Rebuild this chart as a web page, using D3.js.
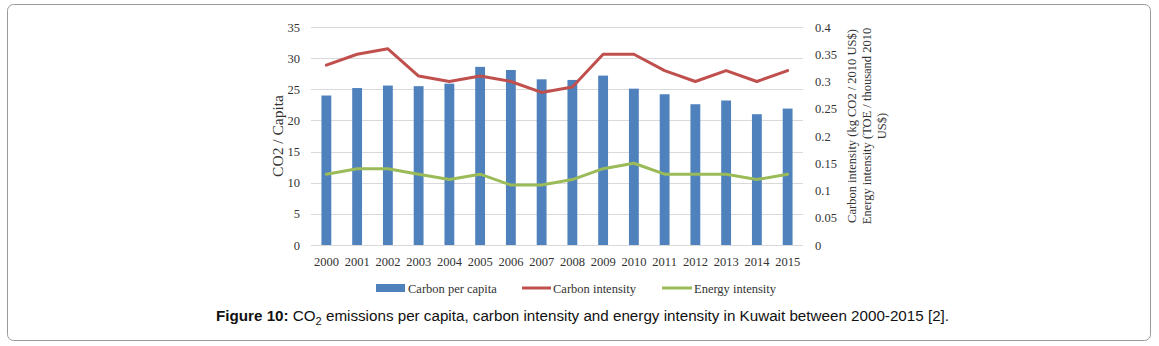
<!DOCTYPE html>
<html>
<head>
<meta charset="utf-8">
<script src="https://cdn.jsdelivr.net/npm/d3@7/dist/d3.min.js"></script>
<style>
  html, body { margin: 0; padding: 0; background: #fff; }
  svg { display: block; }
</style>
</head>
<body>
<svg id="chart" width="1159" height="346"></svg>
<script>
const years = ["2000","2001","2002","2003","2004","2005","2006","2007","2008","2009","2010","2011","2012","2013","2014","2015"];
const carbonPerCapita = [24.0, 25.2, 25.6, 25.5, 25.9, 28.6, 28.1, 26.6, 26.5, 27.2, 25.1, 24.2, 22.6, 23.2, 21.0, 21.9];
const carbonIntensity = [0.33, 0.35, 0.36, 0.31, 0.30, 0.31, 0.30, 0.28, 0.29, 0.35, 0.35, 0.32, 0.30, 0.32, 0.30, 0.32];
const energyIntensity = [0.13, 0.14, 0.14, 0.13, 0.12, 0.13, 0.11, 0.11, 0.12, 0.14, 0.15, 0.13, 0.13, 0.13, 0.12, 0.13];
const leftTicks = [0, 5, 10, 15, 20, 25, 30, 35];
const rightTicks = [0, 0.05, 0.1, 0.15, 0.2, 0.25, 0.3, 0.35, 0.4];
const legendLabels = ["Carbon per capita", "Carbon intensity", "Energy intensity"];

const colors = { bar: "#4F81BD", red: "#C0504D", green: "#9BBB59" };
const serif = "'Liberation Serif', 'Times New Roman', serif";
const sans = "'Liberation Sans', Arial, sans-serif";
const textCol = "#333";

const svg = d3.select("#chart");

// frame
svg.append("rect").attr("x", 7.5).attr("y", 4.5).attr("width", 1143).attr("height", 336)
  .attr("rx", 6).attr("ry", 6).attr("fill", "#fff").attr("stroke", "#9a9a9a").attr("stroke-width", 1);

const plot = { left: 311, right: 803, top: 27, bottom: 245 };

const x = d3.scaleBand().domain(years).range([plot.left, plot.right]).paddingInner(0.68).paddingOuter(0.34);
const yL = d3.scaleLinear().domain([0, 35]).range([plot.bottom, plot.top]);
const yR = d3.scaleLinear().domain([0, 0.4]).range([plot.bottom, plot.top]);

// gridlines
svg.append("g").selectAll("line").data(leftTicks).join("line")
  .attr("x1", plot.left).attr("x2", plot.right)
  .attr("y1", d => Math.round(yL(d)) + 0.5).attr("y2", d => Math.round(yL(d)) + 0.5)
  .attr("stroke", "#d9d9d9").attr("stroke-width", 1);

// left axis
const axL = svg.append("g").attr("transform", `translate(${plot.left},0)`)
  .call(d3.axisLeft(yL).tickValues(leftTicks).tickSize(0).tickPadding(11).tickFormat(d3.format("d")));
axL.select(".domain").remove();
axL.selectAll("text").attr("font-family", serif).attr("font-size", 12.5).attr("fill", textCol);

// right axis
const axR = svg.append("g").attr("transform", `translate(${plot.right},0)`)
  .call(d3.axisRight(yR).tickValues(rightTicks).tickSize(0).tickPadding(12).tickFormat(d => String(+d.toFixed(2))));
axR.select(".domain").remove();
axR.selectAll("text").attr("font-family", serif).attr("font-size", 12.5).attr("fill", textCol);

// bottom axis
const axB = svg.append("g").attr("transform", `translate(0,${plot.bottom})`)
  .call(d3.axisBottom(x).tickSize(0).tickPadding(12));
axB.select(".domain").remove();
axB.selectAll("text").attr("font-family", serif).attr("font-size", 12.5).attr("fill", textCol);

// bars
svg.append("g").selectAll("rect").data(years).join("rect")
  .attr("x", d => x(d)).attr("width", x.bandwidth())
  .attr("y", (d, i) => yL(carbonPerCapita[i]))
  .attr("height", (d, i) => yL(0) - yL(carbonPerCapita[i]))
  .attr("fill", colors.bar);

// lines
const cx = d => x(d) + x.bandwidth() / 2;
const lineGen = (arr) => d3.line().x((d, i) => cx(years[i])).y((d) => yR(d))(arr);
svg.append("path").attr("d", lineGen(carbonIntensity)).attr("fill", "none")
  .attr("stroke", colors.red).attr("stroke-width", 3).attr("stroke-linejoin", "round").attr("stroke-linecap", "round");
svg.append("path").attr("d", lineGen(energyIntensity)).attr("fill", "none")
  .attr("stroke", colors.green).attr("stroke-width", 3).attr("stroke-linejoin", "round").attr("stroke-linecap", "round");

// left title
svg.append("text").attr("transform", "translate(283,136) rotate(-90)")
  .attr("text-anchor", "middle").attr("font-family", serif).attr("font-size", 15.5).attr("fill", textCol)
  .text("CO2 / Capita");

// right title
const rt = svg.append("text").attr("transform", "translate(856,126) rotate(-90)")
  .attr("text-anchor", "middle").attr("font-family", serif).attr("font-size", 12.5).attr("fill", textCol);
["Carbon intensity (kg CO2 / 2010 US$)", "Energy intensity (TOE / thousand 2010", "US$)"].forEach((t, i) => {
  rt.append("tspan").attr("x", 0).attr("dy", i === 0 ? 0 : 15).text(t);
});

// legend
const lg = svg.append("g");
const ly = 288;
lg.append("rect").attr("x", 376).attr("y", ly - 4).attr("width", 29).attr("height", 8).attr("fill", colors.bar);
lg.append("text").attr("x", 408).attr("y", ly + 4.5).attr("font-family", serif).attr("font-size", 12.5).attr("fill", textCol).text(legendLabels[0]);
lg.append("line").attr("x1", 522).attr("x2", 551).attr("y1", ly).attr("y2", ly).attr("stroke", colors.red).attr("stroke-width", 3);
lg.append("text").attr("x", 553).attr("y", ly + 4.5).attr("font-family", serif).attr("font-size", 12.5).attr("fill", textCol).text(legendLabels[1]);
lg.append("line").attr("x1", 662).attr("x2", 692).attr("y1", ly).attr("y2", ly).attr("stroke", colors.green).attr("stroke-width", 3);
lg.append("text").attr("x", 694).attr("y", ly + 4.5).attr("font-family", serif).attr("font-size", 12.5).attr("fill", textCol).text(legendLabels[2]);

// caption
const cap = svg.append("text").attr("x", 216).attr("y", 321).attr("font-family", sans).attr("font-size", 15.2).attr("fill", "#111");
cap.append("tspan").attr("font-weight", "bold").text("Figure 10:");
cap.append("tspan").text(" CO");
cap.append("tspan").attr("font-size", 11).attr("dy", 4).text("2");
cap.append("tspan").attr("dy", -4).text(" emissions per capita, carbon intensity and energy intensity in Kuwait between 2000-2015 [2].");
</script>
</body>
</html>
